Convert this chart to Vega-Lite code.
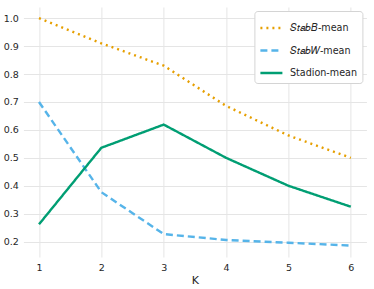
{
  "$schema": "https://vega.github.io/schema/vega-lite/v6.json",
  "width": 343,
  "height": 250,
  "autosize": "none",
  "padding": {"left": 23.4, "top": 7, "right": 7.6, "bottom": 32},
  "config": {
    "font": "DejaVu Sans",
    "view": {"stroke": null},
    "axis": {"domain": false, "ticks": false, "gridColor": "#e5e5e5", "gridWidth": 1, "labelFont": "DejaVu Sans", "labelFontSize": 9.5, "labelColor": "#262626", "titleFont": "DejaVu Sans", "titleFontWeight": "normal", "titleColor": "#262626"},
    "legend": {"title": null, "orient": "top-right", "offset": 3.6, "fillColor": "white", "strokeColor": "#d4d4d4", "cornerRadius": 3, "padding": 4.5, "labelFontSize": 9.6, "labelColor": "#262626", "labelOffset": 6, "symbolType": "stroke", "symbolSize": 484, "symbolStrokeWidth": 2.5, "rowPadding": 4.5}
  },
  "data": {
    "values": [
      {"K": 1, "value": 1.0, "series": "Stab_B-mean"},
      {"K": 2, "value": 0.91, "series": "Stab_B-mean"},
      {"K": 3, "value": 0.83, "series": "Stab_B-mean"},
      {"K": 4, "value": 0.686, "series": "Stab_B-mean"},
      {"K": 5, "value": 0.58, "series": "Stab_B-mean"},
      {"K": 6, "value": 0.5, "series": "Stab_B-mean"},
      {"K": 1, "value": 0.7, "series": "Stab_W-mean"},
      {"K": 2, "value": 0.377, "series": "Stab_W-mean"},
      {"K": 3, "value": 0.227, "series": "Stab_W-mean"},
      {"K": 4, "value": 0.206, "series": "Stab_W-mean"},
      {"K": 5, "value": 0.196, "series": "Stab_W-mean"},
      {"K": 6, "value": 0.186, "series": "Stab_W-mean"},
      {"K": 1, "value": 0.262, "series": "Stadion-mean"},
      {"K": 2, "value": 0.536, "series": "Stadion-mean"},
      {"K": 3, "value": 0.619, "series": "Stadion-mean"},
      {"K": 4, "value": 0.5, "series": "Stadion-mean"},
      {"K": 5, "value": 0.4, "series": "Stadion-mean"},
      {"K": 6, "value": 0.325, "series": "Stadion-mean"}
    ]
  },
  "mark": {"type": "line", "strokeWidth": 2.4},
  "encoding": {
    "x": {"field": "K", "type": "quantitative", "scale": {"domain": [0.75, 6.25], "nice": false, "zero": false}, "axis": {"values": [1, 2, 3, 4, 5, 6], "title": "K", "titleFontSize": 11, "labelPadding": 5, "titlePadding": 3}},
    "y": {"field": "value", "type": "quantitative", "scale": {"domain": [0.145, 1.04], "nice": false, "zero": false}, "axis": {"values": [0.2, 0.3, 0.4, 0.5, 0.6, 0.7, 0.8, 0.9, 1.0], "format": ".1f", "title": null, "labelPadding": 5}},
    "color": {"field": "series", "type": "nominal", "scale": {"domain": ["Stab_B-mean", "Stab_W-mean", "Stadion-mean"], "range": ["#E69F00", "#56B4E9", "#009E73"]}, "legend": {"labelExpr": "datum.label == 'Stab_B-mean' ? '𝑆𝑡𝑎𝑏𝐵-mean' : datum.label == 'Stab_W-mean' ? '𝑆𝑡𝑎𝑏𝑊-mean' : datum.label"}},
    "strokeDash": {"field": "series", "type": "nominal", "scale": {"domain": ["Stab_B-mean", "Stab_W-mean", "Stadion-mean"], "range": [[2, 4], [7, 4], [1, 0]]}, "legend": {"labelExpr": "datum.label == 'Stab_B-mean' ? '𝑆𝑡𝑎𝑏𝐵-mean' : datum.label == 'Stab_W-mean' ? '𝑆𝑡𝑎𝑏𝑊-mean' : datum.label"}}
  }
}
